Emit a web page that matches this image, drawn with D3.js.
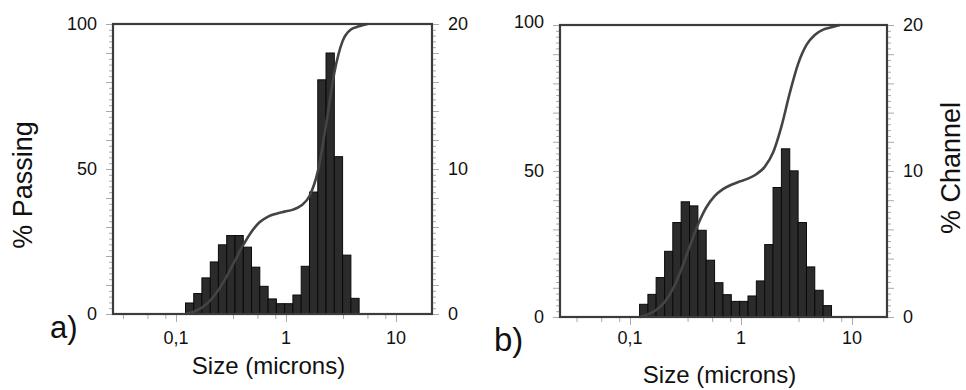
<!DOCTYPE html>
<html>
<head>
<meta charset="utf-8">
<script src="https://cdn.jsdelivr.net/npm/d3@7"></script>
<style>
  body { margin: 0; background: #fff; }
  svg { display: block; font-family: "Liberation Sans", Arial, sans-serif; }
</style>
</head>
<body>
<svg id="chart" width="966" height="390"></svg>
<script>
// Channel edges (microns)
const channelEdges = [0.122, 0.145, 0.172, 0.205, 0.243, 0.289, 0.344, 0.409, 0.486, 0.578,
  0.688, 0.818, 0.972, 1.156, 1.375, 1.635, 1.945, 2.312, 2.75, 3.27, 3.89, 4.62, 5.5, 6.54, 7.78];

// % Channel per bin
const channelA = [0.76, 1.41, 2.49, 3.59, 4.77, 5.41, 5.41, 4.61, 3.23, 1.91, 1.04, 0.71, 0.71,
  1.31, 3.29, 8.41, 16.15, 18.0, 10.85, 4.06, 1.08];
const channelB = [0.87, 1.55, 2.70, 4.50, 6.47, 7.89, 7.61, 5.94, 3.89, 2.35, 1.53, 1.07, 1.07,
  1.44, 2.47, 4.96, 8.87, 11.52, 10.01, 6.47, 3.43, 1.83, 0.78];

// % Passing read at the channel edges
const passingA = [0, 0.8, 2.2, 4.7, 8.3, 13.0, 18.4, 23.8, 28.4, 31.7, 33.6, 34.6, 35.3, 36.0,
  37.4, 40.7, 49.1, 65.2, 83.2, 94.1, 98.1, 99.2, 100];
const passingB = [0, 0.9, 2.4, 5.1, 9.6, 16.1, 24.0, 31.6, 37.5, 41.4, 43.8, 45.3, 46.4, 47.4,
  48.9, 51.4, 56.3, 65.2, 76.7, 86.7, 93.2, 96.6, 98.4, 99.2, 100];

// Axis ticks
const sizeTicks = [0.1, 1, 10];
const sizeTickLabels = ['0,1', '1', '10'];
const sizeMinorTicks = [0.033, 0.055, 0.08, 0.33, 0.55, 0.8, 3.3, 5.5, 8];
const passingTicks = [0, 50, 100];
const channelTicks = [0, 10, 20];

const svg = d3.select('#chart');

const panels = [
  { id: 'a', left: 113, right: 432, top: 24, bottom: 314, domain: [0.02675, 21.25],
    channel: channelA, passing: passingA,
    titleY: 366, letterX: 50, letterY: 338, letterSize: 31, showChannelTitle: false },
  { id: 'b', left: 560, right: 887, top: 25, bottom: 317, domain: [0.02341, 20.67],
    channel: channelB, passing: passingB,
    titleY: 375, letterX: 494, letterY: 351, letterSize: 33, showChannelTitle: true }
];

panels.forEach(function(p) {
  const x = d3.scaleLog().domain(p.domain).range([p.left, p.right]);
  const yp = d3.scaleLinear().domain([0, 100]).range([p.bottom, p.top]);
  const yc = d3.scaleLinear().domain([0, 20]).range([p.bottom, p.top]);

  const g = svg.append('g');

  // Left axis (% Passing): major every 10, minor every 2
  const leftAxis = d3.axisLeft(yp)
    .tickValues(d3.range(0, 101, 2))
    .tickSize(0)
    .tickFormat('');
  const la = g.append('g').attr('transform', 'translate(' + p.left + ',0)').call(leftAxis);
  la.select('.domain').remove();
  la.selectAll('.tick line')
    .attr('x2', function(d) { return d % 10 === 0 ? -7 : -4; })
    .attr('stroke', '#aaa');

  // Right axis (% Channel)
  const rightAxis = d3.axisRight(yc)
    .tickValues(d3.range(0, 20.01, 0.4))
    .tickSize(0)
    .tickFormat('');
  const ra = g.append('g').attr('transform', 'translate(' + p.right + ',0)').call(rightAxis);
  ra.select('.domain').remove();
  ra.selectAll('.tick line')
    .attr('x2', function(d) { return Math.abs(d / 2 - Math.round(d / 2)) < 0.01 ? 7 : 4; })
    .attr('stroke', '#aaa');

  // Bottom axis
  const ba = g.append('g').attr('transform', 'translate(0,' + p.bottom + ')')
    .call(d3.axisBottom(x).tickValues(sizeTicks.concat(sizeMinorTicks)).tickSize(0).tickFormat(''));
  ba.select('.domain').remove();
  ba.selectAll('.tick line')
    .attr('y2', function(d) { return sizeTicks.indexOf(d) >= 0 ? 8 : 5; })
    .attr('stroke', '#aaa');

  // Tick labels
  sizeTicks.forEach(function(t, i) {
    g.append('text')
      .attr('x', x(t)).attr('y', 338)
      .attr('dy', '0.35em')
      .attr('text-anchor', 'middle')
      .attr('font-size', 18)
      .attr('fill', '#111')
      .text(sizeTickLabels[i]);
  });
  passingTicks.forEach(function(t) {
    g.append('text')
      .attr('x', p.left - 16).attr('y', yp(t) - (p.id === 'b' && t === 100 ? 3 : 0))
      .attr('dy', '0.35em')
      .attr('text-anchor', 'end')
      .attr('font-size', 18)
      .attr('fill', '#111')
      .text(t);
  });
  channelTicks.forEach(function(t) {
    g.append('text')
      .attr('x', p.right + 16).attr('y', yc(t))
      .attr('dy', '0.35em')
      .attr('text-anchor', 'start')
      .attr('font-size', 18)
      .attr('fill', '#111')
      .text(t);
  });

  // Bars
  g.selectAll('.bar')
    .data(p.channel)
    .enter()
    .append('rect')
    .attr('class', 'bar')
    .attr('x', function(d, i) { return x(channelEdges[i]); })
    .attr('width', function(d, i) { return x(channelEdges[i + 1]) - x(channelEdges[i]); })
    .attr('y', function(d) { return yc(d); })
    .attr('height', function(d) { return yc(0) - yc(d); })
    .attr('fill', '#2b2b2b')
    .attr('stroke', '#0a0a0a')
    .attr('stroke-width', 1);

  // Cumulative curve
  const line = d3.line()
    .x(function(d, i) { return x(channelEdges[i]); })
    .y(function(d) { return yp(d); })
    .curve(d3.curveMonotoneX);
  g.append('path')
    .datum(p.passing)
    .attr('d', line)
    .attr('fill', 'none')
    .attr('stroke', '#444')
    .attr('stroke-width', 2.6);

  // Frame
  g.append('rect')
    .attr('x', p.left).attr('y', p.top)
    .attr('width', p.right - p.left).attr('height', p.bottom - p.top)
    .attr('fill', 'none')
    .attr('stroke', '#3c3c3c')
    .attr('stroke-width', 2.2);

  // Titles
  g.append('text')
    .attr('x', (p.left + p.right) / 2 - 4).attr('y', p.titleY)
    .attr('dy', '0.35em')
    .attr('text-anchor', 'middle')
    .attr('font-size', 24)
    .attr('fill', '#111')
    .text('Size (microns)');

  g.append('text')
    .attr('x', p.letterX).attr('y', p.letterY)
    .attr('font-size', p.letterSize)
    .attr('fill', '#111')
    .text(p.id + ')');

  if (p.showChannelTitle) {
    svg.append('text')
      .attr('transform', 'translate(951,168) rotate(-90)')
      .attr('dy', '0.35em')
      .attr('text-anchor', 'middle')
      .attr('font-size', 27)
      .attr('fill', '#111')
      .text('% Channel');
  }
});

svg.append('text')
  .attr('transform', 'translate(23,185) rotate(-90)')
  .attr('dy', '0.35em')
  .attr('text-anchor', 'middle')
  .attr('font-size', 27)
  .attr('fill', '#111')
  .text('% Passing');
</script>
</body>
</html>
